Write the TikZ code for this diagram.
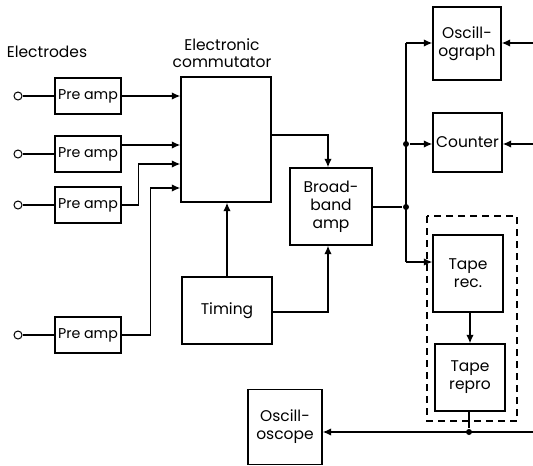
\documentclass[tikz,border=0pt]{standalone}
\usepackage{fontspec}
\setmainfont{Poppins}
\usetikzlibrary{arrows.meta, positioning, calc}

\begin{document}
\begin{tikzpicture}[
    x=1pt, y=-1pt,
    line width=1.5pt,
    >={Latex[length=8.5pt,width=7.5pt]},
    block/.style={draw, line width=1.3pt, align=center, inner sep=1pt, font=\fontsize{15.5}{18}\selectfont},
    preamp/.style={block, minimum width=66pt, minimum height=36pt, font=\fontsize{14.2}{16}\selectfont},
    terminal/.style={circle, draw, line width=1pt, inner sep=0pt, minimum size=8pt},
    dot/.style={circle, fill, inner sep=0pt, minimum size=6pt},
    label/.style={align=center, inner sep=0pt, font=\fontsize{15.5}{17}\selectfont}
]
\useasboundingbox (0,0) rectangle (533,466);

% Blocks
\node[block, minimum width=90pt, minimum height=125pt] (comm) at (226,139.5) {};
\node[block, minimum width=90pt, minimum height=67pt] (timing) at (227,310.5) {Timing};
\node[block, minimum width=82pt, minimum height=77pt] (bb) at (331,206.5) {Broad-\\band\\amp};
\node[block, minimum width=68pt, minimum height=73pt] (graph) at (467,43.5) {Oscill-\\ograph};
\node[block, minimum width=69pt, minimum height=59pt] (counter) at (467.5,142.5) {Counter};
\node[block, minimum width=70pt, minimum height=77pt] (rec) at (468,273.5) {Tape\\rec.};
\node[block, minimum width=70pt, minimum height=67pt] (repro) at (470,377.5) {Tape\\repro};
\node[block, minimum width=74pt, minimum height=75pt] (scope) at (285,427) {Oscill-\\oscope};
\draw[dashed, line width=1.3pt, dash pattern=on 7pt off 5pt] (427,216) rectangle (517,421);

\node[label] (elec) at (47,52) {Electrodes};
\node[label] (commlabel) at (222,53) {Electronic\\commutator};

% Electrodes and pre amps
\foreach \i/\y in {1/96, 2/154, 3/205, 4/335} {
    \node[preamp] (pre\i) at (88,\y) {Pre amp};
    \node[terminal] (e\i) at (18,\y) {};
    \draw[line width=1.3pt] (e\i) -- (pre\i);
}

\draw[->] (pre1.east) -- (pre1.east -| comm.west);
\draw[->] ($(pre2.east)+(0,-9)$) coordinate (p2) -- (p2 -| comm.west);
\draw[->] (pre3.east) -- ++(17,0) |- ($(comm.west)+(0,24.5)$);
\draw[->] (pre4.east) -- ++(29,0) |- ($(comm.west)+(0,48.5)$);

\draw[->] (timing.north) -- (timing.north |- comm.south);
\draw[->] ($(comm.east)+(0,-4.5)$) -| ($(bb.north)+(-3,0)$);
\draw[->] ($(timing.east)+(0,1.5)$) -| ($(bb.south)+(-3,0)$);

% Distribution
\node[dot] (j1) at (406,207) {};
\node[dot] (j2) at (406,144) {};
\coordinate (top) at (406,43);
\coordinate (low) at (406,262);
\draw (bb.east |- j1) -- (j1);
\draw (top) -- (low);
\draw[->] (top) -- (top -| graph.west);
\draw[->] (j2) -- (j2 -| counter.west);
\draw[->] (low) -- (low -| rec.west);
\draw[->] (rec.south -| repro.north) -- (repro.north);

\node[dot] (j3) at (469,432) {};
\coordinate (out) at (533,432);
\draw (repro.south -| j3) -- (j3);
\draw[->] (out) -- (out -| scope.east);

\coordinate (in1) at (533,43);
\coordinate (in2) at (533,144);
\draw[->] (in1) -- (in1 -| graph.east);
\draw[->] (in2) -- (in2 -| counter.east);

\end{tikzpicture}
\end{document}
